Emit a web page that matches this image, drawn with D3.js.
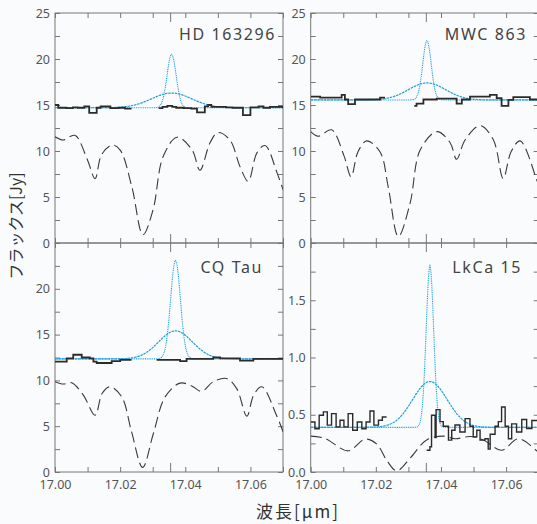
<!DOCTYPE html>
<html>
<head>
<meta charset="utf-8">
<script src="https://cdn.jsdelivr.net/npm/d3@7"></script>
<style>
  body { margin: 0; background: #fafbfd; }
  svg { display: block; }
  .tick text { font-family: "Noto Sans", sans-serif; font-size: 12.5px; fill: #555; }
  .tick line { stroke: #777; }
</style>
</head>
<body>
<svg id="chart" width="537" height="524"></svg>
<script>
// panel names, in order: top-left, top-right, bottom-left, bottom-right
const targets = ["HD 163296", "MWC 863", "CQ Tau", "LkCa 15"]
const yMax = [25, 25, 25, 2]
const yMinor = [2.5, 2.5, 2.5, 0.25]
const yLabels = [[0, 5, 10, 15, 20, 25], [0, 5, 10, 15, 20, 25], [0, 5, 10, 15, 20], [0, 0.5, 1.0, 1.5]]
const xLabels = [17.00, 17.02, 17.04, 17.06]

// gaussian line models (continuum, centre, peaks, widths)
const contLevel = [14.7, 15.55, 12.35, 0.39]
const lineCenter = [17.0358, 17.0357, 17.0370, 17.0366]
const narrowPeak = [20.5, 22.0, 23.1, 1.80]
const narrowSigma = [0.0014, 0.0013, 0.0015, 0.00115]
const broadPeak = [16.3, 17.4, 15.4, 0.79]
const broadSigma = [0.0062, 0.0057, 0.0052, 0.0053]

// observed spectra (step), null = gap
const hdWave = [17.0000, 17.0010, 17.0035, 17.0055, 17.0070, 17.0090, 17.0105, 17.0128, 17.0140, 17.0170, 17.0195, 17.0215, 17.0235, 17.0236,
  17.0318, 17.0330, 17.0345, 17.0360, 17.0372, 17.0395, 17.0418, 17.0436, 17.0460, 17.0470, 17.0480, 17.0500, 17.0525, 17.0545, 17.0577, 17.0600, 17.0625, 17.0640, 17.0660, 17.0700]
const hdFlux = [15.0, 14.7, 14.65, 14.75, 14.7, 14.85, 14.15, 14.7, 14.85, 14.65, 14.7, 14.6, 14.6, null,
  14.65, 14.8, 14.9, 14.8, 14.7, 14.65, 14.6, 14.2, 14.85, 15.0, 14.8, 14.8, 14.75, 14.7, 13.9, 14.75, 14.85, 14.7, 14.8, 14.65]

const mwcWave = [17.0000, 17.0029, 17.0095, 17.0105, 17.0115, 17.0136, 17.0146, 17.0213, 17.0228, 17.0229,
  17.0318, 17.0325, 17.0346, 17.0387, 17.0448, 17.0464, 17.0489, 17.0550, 17.0571, 17.0586, 17.0607, 17.0622, 17.0673, 17.0700]
const mwcFlux = [15.9, 15.8, 16.1, 15.6, 15.1, 15.6, 15.6, 15.8, 15.8, null,
  14.9, 15.15, 15.6, 15.7, 15.15, 15.6, 15.9, 16.1, 15.75, 14.9, 15.55, 15.85, 15.6, 15.6]

const cqWave = [17.0000, 17.0036, 17.0056, 17.0082, 17.0107, 17.0118, 17.0128, 17.0174, 17.0200, 17.0235, 17.0236,
  17.0312, 17.0384, 17.0404, 17.0486, 17.0507, 17.0568, 17.0609, 17.0700]
const cqFlux = [12.05, 12.4, 12.8, 12.5, 12.4, 12.05, 11.9, 12.1, 12.25, 12.25, null,
  12.25, 12.1, 12.35, 12.5, 12.4, 12.15, 12.35, 12.35]

const lkWave = [17.0000, 17.0013, 17.0026, 17.0039, 17.0051, 17.0064, 17.0078, 17.0090, 17.0102, 17.0115, 17.0129, 17.0143, 17.0157, 17.0170,
  17.0182, 17.0194, 17.0208, 17.0220, 17.0233, 17.0234,
  17.0356, 17.0366, 17.0371, 17.0382, 17.0385, 17.0397, 17.0407, 17.0423, 17.0433, 17.0443, 17.0458, 17.0474, 17.0489, 17.0499, 17.0510,
  17.0520, 17.0535, 17.0545, 17.0551, 17.0566, 17.0576, 17.0586, 17.0597, 17.0607, 17.0617, 17.0632, 17.0648, 17.0663, 17.0679, 17.0700]
const lkFlux = [0.437, 0.378, 0.496, 0.525, 0.409, 0.510, 0.394, 0.452, 0.394, 0.510, 0.365, 0.437, 0.378, 0.437,
  0.533, 0.409, 0.452, 0.481, 0.481, null,
  0.19, 0.22, 0.495, 0.30, 0.545, 0.44, 0.40, 0.278, 0.365, 0.41, 0.35, 0.466, 0.40, 0.307, 0.365,
  0.278, 0.29, 0.20, 0.33, 0.40, 0.44, 0.568, 0.40, 0.29, 0.42, 0.35, 0.458, 0.38, 0.45, 0.45]

// atmospheric transmission (dashed), scaled
const hdAtmWave = [17.0000, 17.0025, 17.0061, 17.0100, 17.0123, 17.0143, 17.0175, 17.0200, 17.0236, 17.0270, 17.0301, 17.0332, 17.0375, 17.0421, 17.0445, 17.0476, 17.0500, 17.0537, 17.0568, 17.0593, 17.0620, 17.0645, 17.0682, 17.0700]
const hdAtmFlux = [11.55, 11.2, 11.7, 9.0, 7.0, 9.6, 10.65, 10.1, 6.1, 0.9, 3.6, 9.4, 11.5, 10.1, 7.9, 10.9, 12.0, 11.2, 8.3, 6.7, 9.8, 10.6, 7.6, 5.8]
const mwcAtmWave = [17.0000, 17.0023, 17.0064, 17.0102, 17.0124, 17.0145, 17.0172, 17.0213, 17.0238, 17.0269, 17.0305, 17.0336, 17.0387, 17.0428, 17.0448, 17.0474, 17.0520, 17.0561, 17.0591, 17.0615, 17.0643, 17.0694, 17.0700]
const mwcAtmFlux = [12.1, 11.6, 12.3, 9.5, 7.2, 9.9, 11.1, 9.9, 6.1, 0.7, 4.3, 10.1, 12.1, 10.9, 9.1, 11.2, 12.75, 11.2, 7.0, 9.9, 11.1, 6.85, 6.3]
const cqAtmWave = [17.0000, 17.0026, 17.0051, 17.0087, 17.0123, 17.0145, 17.0169, 17.0205, 17.0235, 17.0269, 17.0302, 17.0338, 17.0384, 17.0420, 17.0450, 17.0486, 17.0527, 17.0558, 17.0589, 17.0610, 17.0635, 17.0680, 17.0700]
const cqAtmFlux = [9.86, 9.6, 9.75, 8.4, 6.2, 8.6, 9.3, 8.2, 4.4, 0.5, 4.2, 8.2, 9.7, 9.4, 8.8, 9.86, 10.2, 9.1, 6.1, 8.4, 9.3, 6.2, 4.4]
const lkAtmWave = [17.0000, 17.0044, 17.0115, 17.0167, 17.0203, 17.0233, 17.0264, 17.0305, 17.0356, 17.0407, 17.0443, 17.0490, 17.0530, 17.0586, 17.0637, 17.0694, 17.0700]
const lkAtmFlux = [0.313, 0.293, 0.185, 0.287, 0.243, 0.104, 0.01, 0.12, 0.28, 0.313, 0.29, 0.31, 0.28, 0.19, 0.29, 0.185, 0.17]

const obsWave = [hdWave, mwcWave, cqWave, lkWave]
const obsFlux = [hdFlux, mwcFlux, cqFlux, lkFlux]
const atmWave = [hdAtmWave, mwcAtmWave, cqAtmWave, lkAtmWave]
const atmFlux = [hdAtmFlux, mwcAtmFlux, cqAtmFlux, lkAtmFlux]

const svg = d3.select("#chart")
const colLeft = [55, 310.7]
const panelW = 228
const rowTop = [13, 243]
const rowBottom = [243, 472]
const titleEnd = [276, 527, 263, 522]
const blue = "#1ea0de"

svg.append("rect").attr("width", 537).attr("height", 524).attr("fill", "#fafbfd")

for (let p = 0; p < 4; p++) {
    const col = p % 2, row = Math.floor(p / 2)
    const x = d3.scaleLinear().domain([17.0, 17.07]).range([colLeft[col], colLeft[col] + panelW])
    const y = d3.scaleLinear().domain([0, yMax[p]]).range([rowBottom[row], rowTop[row]])
    const g = svg.append("g")

    // frame
    g.append("rect")
        .attr("x", x.range()[0]).attr("y", rowTop[row])
        .attr("width", panelW).attr("height", rowBottom[row] - rowTop[row])
        .attr("fill", "none").attr("stroke", "#777").attr("stroke-width", 1)

    const nMinor = Math.round(yMax[p] / yMinor[p])
    const yTicks = d3.range(0, nMinor + 1).map(i => i * yMinor[p])
    const fmt = p === 3 ? d3.format(".1f") : d3.format("d")
    const isLabel = v => yLabels[p].some(l => Math.abs(l - v) < 1e-6)

    g.append("g").attr("transform", `translate(${x.range()[0]},0)`)
        .call(d3.axisLeft(y).tickValues(yTicks).tickSizeInner(-5).tickSizeOuter(0).tickPadding(5)
            .tickFormat(v => isLabel(v) ? fmt(v) : ""))
        .call(a => a.select(".domain").remove())
    g.append("g").attr("transform", `translate(${x.range()[1]},0)`)
        .call(d3.axisRight(y).tickValues(yTicks).tickSizeInner(-5).tickSizeOuter(0).tickFormat(""))
        .call(a => a.select(".domain").remove())

    const xTicks = d3.range(0, 8).map(i => 17.0 + i * 0.01)
    g.append("g").attr("transform", `translate(0,${rowBottom[row]})`)
        .call(d3.axisBottom(x).tickValues(xTicks).tickSizeInner(-5).tickSizeOuter(0).tickPadding(8)
            .tickFormat(v => row === 1 && xLabels.some(l => Math.abs(l - v) < 1e-6) ? d3.format(".2f")(v) : ""))
        .call(a => a.select(".domain").remove())
    g.append("g").attr("transform", `translate(0,${rowTop[row]})`)
        .call(d3.axisTop(x).tickValues(xTicks).tickSizeInner(-5).tickSizeOuter(0).tickFormat(""))
        .call(a => a.select(".domain").remove())
    // line position marker
    ;[[rowTop[row], 1], [rowBottom[row], -1]].forEach(([yy, d]) => {
        g.append("line").attr("x1", x(17.0355)).attr("x2", x(17.0355))
            .attr("y1", yy).attr("y2", yy + d * 9).attr("stroke", "#777")
    })

    const clipId = "clip" + p
    svg.append("clipPath").attr("id", clipId).append("rect")
        .attr("x", x.range()[0]).attr("y", rowTop[row])
        .attr("width", panelW).attr("height", rowBottom[row] - rowTop[row])
    const plot = g.append("g").attr("clip-path", `url(#${clipId})`)

    // atmosphere
    const atm = atmWave[p].map((w, i) => ({w, f: atmFlux[p][i]}))
    plot.append("path").datum(atm)
        .attr("d", d3.line().x(d => x(d.w)).y(d => y(d.f)).curve(d3.curveCatmullRom.alpha(0.5)))
        .attr("fill", "none").attr("stroke", "#3a3a3a").attr("stroke-width", 1.1)
        .attr("stroke-dasharray", "11,5")

    // gaussian models
    const grid = d3.range(0, 351).map(i => 17.0 + i * 0.0002)
    const gauss = (peak, sig) => grid.map(w => ({
        w, f: contLevel[p] + (peak - contLevel[p]) * Math.exp(-((w - lineCenter[p]) ** 2) / (2 * sig * sig))
    }))
    const gl = d3.line().x(d => x(d.w)).y(d => y(d.f))
    plot.append("path").datum(gauss(broadPeak[p], broadSigma[p]))
        .attr("d", gl).attr("fill", "none").attr("stroke", blue).attr("stroke-width", 1.2)
        .attr("stroke-dasharray", "2.5,0.8")
    plot.append("path").datum(gauss(narrowPeak[p], narrowSigma[p]))
        .attr("d", gl).attr("fill", "none").attr("stroke", blue).attr("stroke-width", 1.1)
        .attr("stroke-dasharray", "1,0.8")

    // observed spectrum
    const obs = obsWave[p].map((w, i) => ({w, f: obsFlux[p][i]}))
    plot.append("path").datum(obs)
        .attr("d", d3.line().defined(d => d.f !== null).x(d => x(d.w)).y(d => y(d.f)).curve(d3.curveStepAfter))
        .attr("fill", "none").attr("stroke", "#2b2b2b").attr("stroke-width", p === 3 ? 1.4 : 1.8)

    g.append("text")
        .attr("x", titleEnd[p]).attr("y", row === 0 ? 40 : 273)
        .attr("text-anchor", "end")
        .style("font-family", "'Noto Sans', sans-serif").style("font-size", "16px")
        .style("letter-spacing", "1.6px").style("fill", "#444")
        .text(targets[p])
}

svg.append("text")
    .attr("transform", "translate(22,226) rotate(-90)")
    .attr("text-anchor", "middle")
    .style("font-family", "'Noto Sans CJK JP', sans-serif").style("font-size", "16px").style("fill", "#333")
    .text("フラックス[Jy]")

svg.append("text")
    .attr("x", 298).attr("y", 518)
    .attr("text-anchor", "middle")
    .style("font-family", "'Noto Sans CJK JP', sans-serif").style("font-size", "17px")
    .style("letter-spacing", "2px").style("fill", "#333")
    .text("波長[μm]")
</script>
</body>
</html>
